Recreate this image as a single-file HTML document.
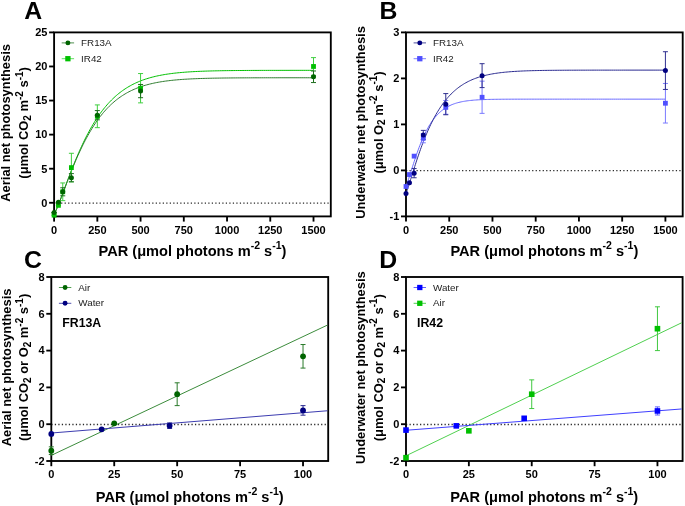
<!DOCTYPE html>
<html><head><meta charset="utf-8"><style>
html,body{margin:0;padding:0;background:#fff;width:685px;height:506px;overflow:hidden}
svg{display:block;will-change:transform}
</style></head><body>
<svg width="685" height="506" viewBox="0 0 685 506" font-family='"Liberation Sans", sans-serif'>
<rect width="685" height="506" fill="#fff"/>
<text x="24.2" y="18.5" font-size="24.8" font-weight="bold">A</text>
<text x="379.4" y="18.5" font-size="24.8" font-weight="bold">B</text>
<text x="24.0" y="268.0" font-size="24.8" font-weight="bold">C</text>
<text x="379.3" y="268.0" font-size="24.8" font-weight="bold">D</text>
<line x1="49.10" y1="202.77" x2="54.10" y2="202.77" stroke="#000" stroke-width="1.85"/>
<text x="47.40" y="206.57" font-size="11.0" font-weight="bold" text-anchor="end">0</text>
<line x1="49.10" y1="168.70" x2="54.10" y2="168.70" stroke="#000" stroke-width="1.85"/>
<text x="47.40" y="172.50" font-size="11.0" font-weight="bold" text-anchor="end">5</text>
<line x1="49.10" y1="134.62" x2="54.10" y2="134.62" stroke="#000" stroke-width="1.85"/>
<text x="47.40" y="138.42" font-size="11.0" font-weight="bold" text-anchor="end">10</text>
<line x1="49.10" y1="100.55" x2="54.10" y2="100.55" stroke="#000" stroke-width="1.85"/>
<text x="47.40" y="104.35" font-size="11.0" font-weight="bold" text-anchor="end">15</text>
<line x1="49.10" y1="66.47" x2="54.10" y2="66.47" stroke="#000" stroke-width="1.85"/>
<text x="47.40" y="70.27" font-size="11.0" font-weight="bold" text-anchor="end">20</text>
<line x1="49.10" y1="32.40" x2="54.10" y2="32.40" stroke="#000" stroke-width="1.85"/>
<text x="47.40" y="36.20" font-size="11.0" font-weight="bold" text-anchor="end">25</text>
<line x1="54.10" y1="216.40" x2="54.10" y2="221.60" stroke="#000" stroke-width="1.85"/>
<text x="54.10" y="233.70" font-size="11.0" font-weight="bold" text-anchor="middle">0</text>
<line x1="97.33" y1="216.40" x2="97.33" y2="221.60" stroke="#000" stroke-width="1.85"/>
<text x="97.33" y="233.70" font-size="11.0" font-weight="bold" text-anchor="middle">250</text>
<line x1="140.57" y1="216.40" x2="140.57" y2="221.60" stroke="#000" stroke-width="1.85"/>
<text x="140.57" y="233.70" font-size="11.0" font-weight="bold" text-anchor="middle">500</text>
<line x1="183.80" y1="216.40" x2="183.80" y2="221.60" stroke="#000" stroke-width="1.85"/>
<text x="183.80" y="233.70" font-size="11.0" font-weight="bold" text-anchor="middle">750</text>
<line x1="227.04" y1="216.40" x2="227.04" y2="221.60" stroke="#000" stroke-width="1.85"/>
<text x="227.04" y="233.70" font-size="11.0" font-weight="bold" text-anchor="middle">1000</text>
<line x1="270.27" y1="216.40" x2="270.27" y2="221.60" stroke="#000" stroke-width="1.85"/>
<text x="270.27" y="233.70" font-size="11.0" font-weight="bold" text-anchor="middle">1250</text>
<line x1="313.51" y1="216.40" x2="313.51" y2="221.60" stroke="#000" stroke-width="1.85"/>
<text x="313.51" y="233.70" font-size="11.0" font-weight="bold" text-anchor="middle">1500</text>
<line x1="54.10" y1="203.07" x2="329.88" y2="203.07" stroke="#2a2a2a" stroke-width="1.3" stroke-dasharray="1.25 2.254"/>
<rect x="54.10" y="32.40" width="276.70" height="184.00" fill="none" stroke="#000" stroke-width="1.85"/>
<polyline points="54.10,213.86 54.15,213.82 54.26,213.70 54.41,213.49 54.60,213.21 54.81,212.85 55.05,212.42 55.31,211.91 55.60,211.33 55.92,210.68 56.25,209.95 56.60,209.16 56.98,208.30 57.37,207.37 57.78,206.38 58.21,205.32 58.66,204.20 59.12,203.02 59.61,201.79 60.10,200.50 60.62,199.15 61.15,197.75 61.69,196.31 62.25,194.81 62.82,193.27 63.41,191.69 64.01,190.06 64.63,188.40 65.26,186.70 65.91,184.97 66.57,183.20 67.24,181.41 67.92,179.58 68.62,177.74 69.33,175.87 70.05,173.98 70.79,172.07 71.54,170.15 72.30,168.21 73.07,166.27 73.85,164.31 74.65,162.35 75.46,160.38 76.28,158.41 77.11,156.44 77.95,154.47 78.80,152.51 79.67,150.55 80.54,148.60 81.43,146.66 82.33,144.72 83.24,142.80 84.16,140.90 85.09,139.01 86.03,137.14 86.98,135.28 87.94,133.45 88.91,131.64 89.89,129.85 90.89,128.08 91.89,126.34 92.90,124.62 93.93,122.93 94.96,121.26 96.00,119.63 97.05,118.02 98.12,116.44 99.19,114.90 100.27,113.38 101.36,111.89 102.46,110.44 103.57,109.02 104.69,107.63 105.82,106.27 106.96,104.94 108.10,103.65 109.26,102.39 110.43,101.16 111.60,99.96 112.79,98.80 113.98,97.66 115.18,96.56 116.39,95.50 117.61,94.46 118.84,93.45 120.08,92.48 121.32,91.53 122.58,90.62 123.84,89.74 125.12,88.88 126.40,88.06 127.69,87.26 128.98,86.49 130.29,85.75 131.61,85.03 132.93,84.34 134.26,83.68 135.60,83.04 136.95,82.43 138.31,81.84 139.67,81.27 141.05,80.73 142.43,80.21 143.82,79.71 145.21,79.23 146.62,78.77 148.03,78.33 149.46,77.91 150.89,77.51 152.32,77.13 153.77,76.76 155.22,76.41 156.68,76.08 158.15,75.76 159.63,75.46 161.12,75.17 162.61,74.90 164.11,74.64 165.62,74.39 167.13,74.15 168.66,73.93 170.19,73.72 171.73,73.51 173.27,73.32 174.83,73.14 176.39,72.97 177.96,72.81 179.53,72.66 181.12,72.51 182.71,72.38 184.31,72.25 185.92,72.12 187.53,72.01 189.15,71.90 190.78,71.80 192.41,71.70 194.06,71.61 195.71,71.53 197.36,71.45 199.03,71.37 200.70,71.30 202.38,71.24 204.07,71.17 205.76,71.11 207.46,71.06 209.17,71.01 210.88,70.96 212.60,70.92 214.33,70.87 216.07,70.83 217.81,70.80 219.56,70.76 221.32,70.73 223.08,70.70 224.85,70.67 226.63,70.65 228.41,70.62 230.21,70.60 232.00,70.58 233.81,70.56 235.62,70.54 237.44,70.53 239.26,70.51 241.10,70.50 242.94,70.48 244.78,70.47 246.63,70.46 248.49,70.45 250.36,70.44 252.23,70.43 254.11,70.42 256.00,70.41 257.89,70.41 259.79,70.40 261.69,70.39 263.60,70.39 265.52,70.38 267.45,70.38 269.38,70.37 271.32,70.37 273.26,70.37 275.21,70.36 277.17,70.36 279.14,70.36 281.11,70.35 283.09,70.35 285.07,70.35 287.06,70.35 289.06,70.35 291.06,70.34 293.07,70.34 295.08,70.34 297.10,70.34 299.13,70.34 301.17,70.34 303.21,70.34 305.26,70.34 307.31,70.34 309.37,70.33 311.43,70.33 313.51,70.33" fill="none" stroke="#00C000" stroke-width="1.0"/>
<polyline points="54.10,213.72 54.15,213.67 54.26,213.55 54.41,213.34 54.60,213.06 54.81,212.70 55.05,212.26 55.31,211.75 55.60,211.17 55.92,210.52 56.25,209.79 56.60,209.00 56.98,208.14 57.37,207.21 57.78,206.23 58.21,205.18 58.66,204.06 59.12,202.90 59.61,201.67 60.10,200.39 60.62,199.06 61.15,197.68 61.69,196.25 62.25,194.78 62.82,193.26 63.41,191.70 64.01,190.10 64.63,188.47 65.26,186.80 65.91,185.10 66.57,183.37 67.24,181.62 67.92,179.84 68.62,178.03 69.33,176.21 70.05,174.37 70.79,172.51 71.54,170.64 72.30,168.76 73.07,166.87 73.85,164.98 74.65,163.08 75.46,161.18 76.28,159.27 77.11,157.37 77.95,155.48 78.80,153.59 79.67,151.71 80.54,149.83 81.43,147.97 82.33,146.12 83.24,144.28 84.16,142.46 85.09,140.66 86.03,138.88 86.98,137.11 87.94,135.37 88.91,133.65 89.89,131.95 90.89,130.28 91.89,128.63 92.90,127.01 93.93,125.42 94.96,123.85 96.00,122.31 97.05,120.81 98.12,119.33 99.19,117.88 100.27,116.46 101.36,115.08 102.46,113.72 103.57,112.40 104.69,111.10 105.82,109.84 106.96,108.61 108.10,107.42 109.26,106.25 110.43,105.12 111.60,104.02 112.79,102.95 113.98,101.91 115.18,100.90 116.39,99.93 117.61,98.98 118.84,98.06 120.08,97.18 121.32,96.32 122.58,95.49 123.84,94.69 125.12,93.92 126.40,93.17 127.69,92.45 128.98,91.76 130.29,91.10 131.61,90.46 132.93,89.84 134.26,89.25 135.60,88.68 136.95,88.13 138.31,87.61 139.67,87.11 141.05,86.63 142.43,86.17 143.82,85.73 145.21,85.31 146.62,84.90 148.03,84.52 149.46,84.15 150.89,83.80 152.32,83.47 153.77,83.15 155.22,82.84 156.68,82.56 158.15,82.28 159.63,82.02 161.12,81.77 162.61,81.54 164.11,81.31 165.62,81.10 167.13,80.90 168.66,80.71 170.19,80.53 171.73,80.36 173.27,80.20 174.83,80.04 176.39,79.90 177.96,79.76 179.53,79.64 181.12,79.51 182.71,79.40 184.31,79.29 185.92,79.19 187.53,79.10 189.15,79.01 190.78,78.92 192.41,78.84 194.06,78.77 195.71,78.70 197.36,78.63 199.03,78.57 200.70,78.51 202.38,78.46 204.07,78.41 205.76,78.36 207.46,78.32 209.17,78.28 210.88,78.24 212.60,78.20 214.33,78.17 216.07,78.14 217.81,78.11 219.56,78.08 221.32,78.05 223.08,78.03 224.85,78.01 226.63,77.99 228.41,77.97 230.21,77.95 232.00,77.94 233.81,77.92 235.62,77.91 237.44,77.89 239.26,77.88 241.10,77.87 242.94,77.86 244.78,77.85 246.63,77.84 248.49,77.83 250.36,77.83 252.23,77.82 254.11,77.81 256.00,77.81 257.89,77.80 259.79,77.80 261.69,77.79 263.60,77.79 265.52,77.78 267.45,77.78 269.38,77.78 271.32,77.77 273.26,77.77 275.21,77.77 277.17,77.77 279.14,77.76 281.11,77.76 283.09,77.76 285.07,77.76 287.06,77.76 289.06,77.76 291.06,77.76 293.07,77.75 295.08,77.75 297.10,77.75 299.13,77.75 301.17,77.75 303.21,77.75 305.26,77.75 307.31,77.75 309.37,77.75 311.43,77.75 313.51,77.75" fill="none" stroke="#2e7d2e" stroke-width="1.0"/>
<line x1="54.10" y1="215.17" x2="54.10" y2="215.17" stroke="#3fcf3f" stroke-width="1.0"/>
<line x1="51.60" y1="215.17" x2="56.60" y2="215.17" stroke="#3fcf3f" stroke-width="1.0"/>
<line x1="51.60" y1="215.17" x2="56.60" y2="215.17" stroke="#3fcf3f" stroke-width="1.0"/>
<line x1="58.42" y1="205.36" x2="58.42" y2="205.36" stroke="#3fcf3f" stroke-width="1.0"/>
<line x1="55.92" y1="205.36" x2="60.92" y2="205.36" stroke="#3fcf3f" stroke-width="1.0"/>
<line x1="55.92" y1="205.36" x2="60.92" y2="205.36" stroke="#3fcf3f" stroke-width="1.0"/>
<line x1="62.75" y1="182.94" x2="62.75" y2="200.66" stroke="#3fcf3f" stroke-width="1.0"/>
<line x1="60.25" y1="182.94" x2="65.25" y2="182.94" stroke="#3fcf3f" stroke-width="1.0"/>
<line x1="60.25" y1="200.66" x2="65.25" y2="200.66" stroke="#3fcf3f" stroke-width="1.0"/>
<line x1="71.39" y1="153.29" x2="71.39" y2="181.92" stroke="#3fcf3f" stroke-width="1.0"/>
<line x1="68.89" y1="153.29" x2="73.89" y2="153.29" stroke="#3fcf3f" stroke-width="1.0"/>
<line x1="68.89" y1="181.92" x2="73.89" y2="181.92" stroke="#3fcf3f" stroke-width="1.0"/>
<line x1="97.33" y1="104.91" x2="97.33" y2="127.67" stroke="#3fcf3f" stroke-width="1.0"/>
<line x1="94.83" y1="104.91" x2="99.83" y2="104.91" stroke="#3fcf3f" stroke-width="1.0"/>
<line x1="94.83" y1="127.67" x2="99.83" y2="127.67" stroke="#3fcf3f" stroke-width="1.0"/>
<line x1="140.57" y1="73.56" x2="140.57" y2="102.87" stroke="#3fcf3f" stroke-width="1.0"/>
<line x1="138.07" y1="73.56" x2="143.07" y2="73.56" stroke="#3fcf3f" stroke-width="1.0"/>
<line x1="138.07" y1="102.87" x2="143.07" y2="102.87" stroke="#3fcf3f" stroke-width="1.0"/>
<line x1="313.51" y1="57.61" x2="313.51" y2="75.33" stroke="#3fcf3f" stroke-width="1.0"/>
<line x1="311.01" y1="57.61" x2="316.01" y2="57.61" stroke="#3fcf3f" stroke-width="1.0"/>
<line x1="311.01" y1="75.33" x2="316.01" y2="75.33" stroke="#3fcf3f" stroke-width="1.0"/>
<line x1="54.10" y1="212.58" x2="54.10" y2="212.58" stroke="#1f6f1f" stroke-width="1.0"/>
<line x1="51.60" y1="212.58" x2="56.60" y2="212.58" stroke="#1f6f1f" stroke-width="1.0"/>
<line x1="51.60" y1="212.58" x2="56.60" y2="212.58" stroke="#1f6f1f" stroke-width="1.0"/>
<line x1="58.42" y1="202.36" x2="58.42" y2="202.36" stroke="#1f6f1f" stroke-width="1.0"/>
<line x1="55.92" y1="202.36" x2="60.92" y2="202.36" stroke="#1f6f1f" stroke-width="1.0"/>
<line x1="55.92" y1="202.36" x2="60.92" y2="202.36" stroke="#1f6f1f" stroke-width="1.0"/>
<line x1="62.75" y1="187.78" x2="62.75" y2="195.82" stroke="#1f6f1f" stroke-width="1.0"/>
<line x1="60.25" y1="187.78" x2="65.25" y2="187.78" stroke="#1f6f1f" stroke-width="1.0"/>
<line x1="60.25" y1="195.82" x2="65.25" y2="195.82" stroke="#1f6f1f" stroke-width="1.0"/>
<line x1="71.39" y1="173.60" x2="71.39" y2="181.78" stroke="#1f6f1f" stroke-width="1.0"/>
<line x1="68.89" y1="173.60" x2="73.89" y2="173.60" stroke="#1f6f1f" stroke-width="1.0"/>
<line x1="68.89" y1="181.78" x2="73.89" y2="181.78" stroke="#1f6f1f" stroke-width="1.0"/>
<line x1="97.33" y1="110.57" x2="97.33" y2="119.83" stroke="#1f6f1f" stroke-width="1.0"/>
<line x1="94.83" y1="110.57" x2="99.83" y2="110.57" stroke="#1f6f1f" stroke-width="1.0"/>
<line x1="94.83" y1="119.83" x2="99.83" y2="119.83" stroke="#1f6f1f" stroke-width="1.0"/>
<line x1="140.57" y1="84.47" x2="140.57" y2="97.69" stroke="#1f6f1f" stroke-width="1.0"/>
<line x1="138.07" y1="84.47" x2="143.07" y2="84.47" stroke="#1f6f1f" stroke-width="1.0"/>
<line x1="138.07" y1="97.69" x2="143.07" y2="97.69" stroke="#1f6f1f" stroke-width="1.0"/>
<line x1="313.51" y1="70.97" x2="313.51" y2="82.56" stroke="#1f6f1f" stroke-width="1.0"/>
<line x1="311.01" y1="70.97" x2="316.01" y2="70.97" stroke="#1f6f1f" stroke-width="1.0"/>
<line x1="311.01" y1="82.56" x2="316.01" y2="82.56" stroke="#1f6f1f" stroke-width="1.0"/>
<rect x="51.70" y="212.77" width="4.8" height="4.8" fill="#00C000"/>
<rect x="56.02" y="202.96" width="4.8" height="4.8" fill="#00C000"/>
<rect x="60.35" y="189.40" width="4.8" height="4.8" fill="#00C000"/>
<rect x="68.99" y="165.21" width="4.8" height="4.8" fill="#00C000"/>
<rect x="94.93" y="113.89" width="4.8" height="4.8" fill="#00C000"/>
<rect x="138.17" y="85.81" width="4.8" height="4.8" fill="#00C000"/>
<rect x="311.11" y="64.07" width="4.8" height="4.8" fill="#00C000"/>
<circle cx="54.10" cy="212.58" r="2.5" fill="#006400"/>
<circle cx="58.42" cy="202.36" r="2.5" fill="#006400"/>
<circle cx="62.75" cy="191.80" r="2.5" fill="#006400"/>
<circle cx="71.39" cy="177.69" r="2.5" fill="#006400"/>
<circle cx="97.33" cy="115.20" r="2.5" fill="#006400"/>
<circle cx="140.57" cy="91.08" r="2.5" fill="#006400"/>
<circle cx="313.51" cy="76.76" r="2.5" fill="#006400"/>
<line x1="61.70" y1="42.90" x2="74.10" y2="42.90" stroke="#4f8f4f" stroke-width="1"/>
<circle cx="67.90" cy="42.90" r="2.45" fill="#006400"/>
<text x="81.10" y="46.00" font-size="9.8" fill="#222">FR13A</text>
<line x1="61.70" y1="58.70" x2="74.10" y2="58.70" stroke="#5fdf5f" stroke-width="1"/>
<rect x="65.25" y="56.05" width="5.3" height="5.3" fill="#00C000"/>
<text x="81.10" y="61.80" font-size="9.8" fill="#222">IR42</text>
<line x1="401.00" y1="216.40" x2="406.00" y2="216.40" stroke="#000" stroke-width="1.85"/>
<text x="399.30" y="220.20" font-size="11.0" font-weight="bold" text-anchor="end">-1</text>
<line x1="401.00" y1="170.40" x2="406.00" y2="170.40" stroke="#000" stroke-width="1.85"/>
<text x="399.30" y="174.20" font-size="11.0" font-weight="bold" text-anchor="end">0</text>
<line x1="401.00" y1="124.40" x2="406.00" y2="124.40" stroke="#000" stroke-width="1.85"/>
<text x="399.30" y="128.20" font-size="11.0" font-weight="bold" text-anchor="end">1</text>
<line x1="401.00" y1="78.40" x2="406.00" y2="78.40" stroke="#000" stroke-width="1.85"/>
<text x="399.30" y="82.20" font-size="11.0" font-weight="bold" text-anchor="end">2</text>
<line x1="401.00" y1="32.40" x2="406.00" y2="32.40" stroke="#000" stroke-width="1.85"/>
<text x="399.30" y="36.20" font-size="11.0" font-weight="bold" text-anchor="end">3</text>
<line x1="406.00" y1="216.40" x2="406.00" y2="221.60" stroke="#000" stroke-width="1.85"/>
<text x="406.00" y="233.70" font-size="11.0" font-weight="bold" text-anchor="middle">0</text>
<line x1="449.23" y1="216.40" x2="449.23" y2="221.60" stroke="#000" stroke-width="1.85"/>
<text x="449.23" y="233.70" font-size="11.0" font-weight="bold" text-anchor="middle">250</text>
<line x1="492.47" y1="216.40" x2="492.47" y2="221.60" stroke="#000" stroke-width="1.85"/>
<text x="492.47" y="233.70" font-size="11.0" font-weight="bold" text-anchor="middle">500</text>
<line x1="535.70" y1="216.40" x2="535.70" y2="221.60" stroke="#000" stroke-width="1.85"/>
<text x="535.70" y="233.70" font-size="11.0" font-weight="bold" text-anchor="middle">750</text>
<line x1="578.94" y1="216.40" x2="578.94" y2="221.60" stroke="#000" stroke-width="1.85"/>
<text x="578.94" y="233.70" font-size="11.0" font-weight="bold" text-anchor="middle">1000</text>
<line x1="622.17" y1="216.40" x2="622.17" y2="221.60" stroke="#000" stroke-width="1.85"/>
<text x="622.17" y="233.70" font-size="11.0" font-weight="bold" text-anchor="middle">1250</text>
<line x1="665.41" y1="216.40" x2="665.41" y2="221.60" stroke="#000" stroke-width="1.85"/>
<text x="665.41" y="233.70" font-size="11.0" font-weight="bold" text-anchor="middle">1500</text>
<line x1="406.00" y1="170.70" x2="681.78" y2="170.70" stroke="#2a2a2a" stroke-width="1.3" stroke-dasharray="1.25 2.254"/>
<rect x="406.00" y="32.40" width="276.70" height="184.00" fill="none" stroke="#000" stroke-width="1.85"/>
<polyline points="406.00,185.44 406.05,185.39 406.16,185.22 406.31,184.95 406.50,184.58 406.71,184.11 406.95,183.53 407.21,182.86 407.50,182.09 407.82,181.23 408.15,180.28 408.50,179.24 408.88,178.12 409.27,176.93 409.68,175.66 410.11,174.32 410.56,172.91 411.02,171.45 411.51,169.93 412.00,168.36 412.52,166.74 413.05,165.09 413.59,163.39 414.15,161.67 414.72,159.92 415.31,158.15 415.91,156.36 416.53,154.56 417.16,152.75 417.81,150.94 418.47,149.14 419.14,147.34 419.82,145.54 420.52,143.77 421.23,142.01 421.95,140.27 422.69,138.55 423.44,136.86 424.20,135.21 424.97,133.58 425.75,131.99 426.55,130.43 427.36,128.92 428.18,127.44 429.01,126.00 429.85,124.61 430.70,123.26 431.57,121.96 432.44,120.70 433.33,119.49 434.23,118.32 435.14,117.20 436.06,116.12 436.99,115.09 437.93,114.11 438.88,113.17 439.84,112.27 440.81,111.41 441.79,110.60 442.79,109.83 443.79,109.10 444.80,108.41 445.83,107.76 446.86,107.14 447.90,106.56 448.95,106.01 450.02,105.50 451.09,105.01 452.17,104.56 453.26,104.14 454.36,103.74 455.47,103.37 456.59,103.03 457.72,102.71 458.86,102.41 460.00,102.14 461.16,101.88 462.33,101.64 463.50,101.42 464.69,101.22 465.88,101.03 467.08,100.86 468.29,100.71 469.51,100.56 470.74,100.43 471.98,100.30 473.22,100.19 474.48,100.09 475.74,100.00 477.02,99.91 478.30,99.84 479.59,99.77 480.88,99.70 482.19,99.65 483.51,99.59 484.83,99.55 486.16,99.50 487.50,99.46 488.85,99.43 490.21,99.40 491.57,99.37 492.95,99.35 494.33,99.32 495.72,99.30 497.11,99.28 498.52,99.27 499.93,99.25 501.36,99.24 502.79,99.23 504.22,99.22 505.67,99.21 507.12,99.20 508.58,99.20 510.05,99.19 511.53,99.18 513.02,99.18 514.51,99.18 516.01,99.17 517.52,99.17 519.03,99.17 520.56,99.16 522.09,99.16 523.63,99.16 525.17,99.16 526.73,99.16 528.29,99.15 529.86,99.15 531.43,99.15 533.02,99.15 534.61,99.15 536.21,99.15 537.82,99.15 539.43,99.15 541.05,99.15 542.68,99.15 544.31,99.15 545.96,99.15 547.61,99.15 549.26,99.15 550.93,99.15 552.60,99.15 554.28,99.15 555.97,99.15 557.66,99.15 559.36,99.15 561.07,99.15 562.78,99.15 564.50,99.15 566.23,99.15 567.97,99.15 569.71,99.15 571.46,99.15 573.22,99.15 574.98,99.15 576.75,99.15 578.53,99.15 580.31,99.15 582.11,99.15 583.90,99.15 585.71,99.15 587.52,99.15 589.34,99.15 591.16,99.15 593.00,99.15 594.84,99.15 596.68,99.15 598.53,99.15 600.39,99.15 602.26,99.15 604.13,99.15 606.01,99.15 607.90,99.15 609.79,99.15 611.69,99.15 613.59,99.15 615.50,99.15 617.42,99.15 619.35,99.15 621.28,99.15 623.22,99.15 625.16,99.15 627.11,99.15 629.07,99.15 631.04,99.15 633.01,99.15 634.99,99.15 636.97,99.15 638.96,99.15 640.96,99.15 642.96,99.15 644.97,99.15 646.98,99.15 649.00,99.15 651.03,99.15 653.07,99.15 655.11,99.15 657.16,99.15 659.21,99.15 661.27,99.15 663.33,99.15 665.41,99.15" fill="none" stroke="#6a6aff" stroke-width="1.0"/>
<polyline points="406.00,193.03 406.05,192.95 406.16,192.74 406.31,192.41 406.50,191.97 406.71,191.42 406.95,190.78 407.21,190.04 407.50,189.21 407.82,188.29 408.15,187.29 408.50,186.21 408.88,185.06 409.27,183.83 409.68,182.53 410.11,181.17 410.56,179.74 411.02,178.25 411.51,176.71 412.00,175.12 412.52,173.48 413.05,171.80 413.59,170.07 414.15,168.31 414.72,166.51 415.31,164.68 415.91,162.82 416.53,160.95 417.16,159.05 417.81,157.13 418.47,155.20 419.14,153.25 419.82,151.30 420.52,149.34 421.23,147.38 421.95,145.42 422.69,143.47 423.44,141.52 424.20,139.58 424.97,137.64 425.75,135.72 426.55,133.82 427.36,131.93 428.18,130.06 429.01,128.21 429.85,126.38 430.70,124.58 431.57,122.80 432.44,121.05 433.33,119.33 434.23,117.64 435.14,115.98 436.06,114.35 436.99,112.75 437.93,111.18 438.88,109.65 439.84,108.15 440.81,106.69 441.79,105.26 442.79,103.87 443.79,102.52 444.80,101.20 445.83,99.91 446.86,98.67 447.90,97.46 448.95,96.28 450.02,95.14 451.09,94.04 452.17,92.97 453.26,91.94 454.36,90.94 455.47,89.98 456.59,89.05 457.72,88.15 458.86,87.29 460.00,86.45 461.16,85.65 462.33,84.88 463.50,84.14 464.69,83.43 465.88,82.75 467.08,82.10 468.29,81.47 469.51,80.87 470.74,80.30 471.98,79.75 473.22,79.23 474.48,78.73 475.74,78.25 477.02,77.79 478.30,77.36 479.59,76.95 480.88,76.55 482.19,76.18 483.51,75.83 484.83,75.49 486.16,75.17 487.50,74.86 488.85,74.58 490.21,74.30 491.57,74.05 492.95,73.80 494.33,73.57 495.72,73.35 497.11,73.15 498.52,72.95 499.93,72.77 501.36,72.59 502.79,72.43 504.22,72.28 505.67,72.13 507.12,72.00 508.58,71.87 510.05,71.75 511.53,71.64 513.02,71.53 514.51,71.44 516.01,71.34 517.52,71.26 519.03,71.18 520.56,71.10 522.09,71.03 523.63,70.96 525.17,70.90 526.73,70.84 528.29,70.79 529.86,70.74 531.43,70.69 533.02,70.65 534.61,70.61 536.21,70.57 537.82,70.54 539.43,70.50 541.05,70.47 542.68,70.45 544.31,70.42 545.96,70.40 547.61,70.37 549.26,70.35 550.93,70.33 552.60,70.32 554.28,70.30 555.97,70.29 557.66,70.27 559.36,70.26 561.07,70.25 562.78,70.24 564.50,70.23 566.23,70.22 567.97,70.21 569.71,70.20 571.46,70.19 573.22,70.19 574.98,70.18 576.75,70.18 578.53,70.17 580.31,70.17 582.11,70.16 583.90,70.16 585.71,70.16 587.52,70.15 589.34,70.15 591.16,70.15 593.00,70.14 594.84,70.14 596.68,70.14 598.53,70.14 600.39,70.14 602.26,70.13 604.13,70.13 606.01,70.13 607.90,70.13 609.79,70.13 611.69,70.13 613.59,70.13 615.50,70.13 617.42,70.13 619.35,70.13 621.28,70.13 623.22,70.12 625.16,70.12 627.11,70.12 629.07,70.12 631.04,70.12 633.01,70.12 634.99,70.12 636.97,70.12 638.96,70.12 640.96,70.12 642.96,70.12 644.97,70.12 646.98,70.12 649.00,70.12 651.03,70.12 653.07,70.12 655.11,70.12 657.16,70.12 659.21,70.12 661.27,70.12 663.33,70.12 665.41,70.12" fill="none" stroke="#2a2a90" stroke-width="1.0"/>
<line x1="423.29" y1="133.60" x2="423.29" y2="142.80" stroke="#7b7bff" stroke-width="1.0"/>
<line x1="420.79" y1="133.60" x2="425.79" y2="133.60" stroke="#7b7bff" stroke-width="1.0"/>
<line x1="420.79" y1="142.80" x2="425.79" y2="142.80" stroke="#7b7bff" stroke-width="1.0"/>
<line x1="445.78" y1="100.48" x2="445.78" y2="114.28" stroke="#7b7bff" stroke-width="1.0"/>
<line x1="443.28" y1="100.48" x2="448.28" y2="100.48" stroke="#7b7bff" stroke-width="1.0"/>
<line x1="443.28" y1="114.28" x2="448.28" y2="114.28" stroke="#7b7bff" stroke-width="1.0"/>
<line x1="482.09" y1="81.16" x2="482.09" y2="113.36" stroke="#7b7bff" stroke-width="1.0"/>
<line x1="479.59" y1="81.16" x2="484.59" y2="81.16" stroke="#7b7bff" stroke-width="1.0"/>
<line x1="479.59" y1="113.36" x2="484.59" y2="113.36" stroke="#7b7bff" stroke-width="1.0"/>
<line x1="665.41" y1="83.46" x2="665.41" y2="123.02" stroke="#7b7bff" stroke-width="1.0"/>
<line x1="662.91" y1="83.46" x2="667.91" y2="83.46" stroke="#7b7bff" stroke-width="1.0"/>
<line x1="662.91" y1="123.02" x2="667.91" y2="123.02" stroke="#7b7bff" stroke-width="1.0"/>
<line x1="414.13" y1="168.56" x2="414.13" y2="177.76" stroke="#303090" stroke-width="1.0"/>
<line x1="411.63" y1="168.56" x2="416.63" y2="168.56" stroke="#303090" stroke-width="1.0"/>
<line x1="411.63" y1="177.76" x2="416.63" y2="177.76" stroke="#303090" stroke-width="1.0"/>
<line x1="423.29" y1="130.38" x2="423.29" y2="139.58" stroke="#303090" stroke-width="1.0"/>
<line x1="420.79" y1="130.38" x2="425.79" y2="130.38" stroke="#303090" stroke-width="1.0"/>
<line x1="420.79" y1="139.58" x2="425.79" y2="139.58" stroke="#303090" stroke-width="1.0"/>
<line x1="445.78" y1="93.58" x2="445.78" y2="114.74" stroke="#303090" stroke-width="1.0"/>
<line x1="443.28" y1="93.58" x2="448.28" y2="93.58" stroke="#303090" stroke-width="1.0"/>
<line x1="443.28" y1="114.74" x2="448.28" y2="114.74" stroke="#303090" stroke-width="1.0"/>
<line x1="482.09" y1="63.68" x2="482.09" y2="87.60" stroke="#303090" stroke-width="1.0"/>
<line x1="479.59" y1="63.68" x2="484.59" y2="63.68" stroke="#303090" stroke-width="1.0"/>
<line x1="479.59" y1="87.60" x2="484.59" y2="87.60" stroke="#303090" stroke-width="1.0"/>
<line x1="665.41" y1="51.72" x2="665.41" y2="89.44" stroke="#303090" stroke-width="1.0"/>
<line x1="662.91" y1="51.72" x2="667.91" y2="51.72" stroke="#303090" stroke-width="1.0"/>
<line x1="662.91" y1="89.44" x2="667.91" y2="89.44" stroke="#303090" stroke-width="1.0"/>
<rect x="403.60" y="184.10" width="4.8" height="4.8" fill="#5050FF"/>
<rect x="407.06" y="172.14" width="4.8" height="4.8" fill="#5050FF"/>
<rect x="411.73" y="153.74" width="4.8" height="4.8" fill="#5050FF"/>
<rect x="420.89" y="135.80" width="4.8" height="4.8" fill="#5050FF"/>
<rect x="443.38" y="104.98" width="4.8" height="4.8" fill="#5050FF"/>
<rect x="479.69" y="94.86" width="4.8" height="4.8" fill="#5050FF"/>
<rect x="663.01" y="100.84" width="4.8" height="4.8" fill="#5050FF"/>
<circle cx="406.00" cy="193.40" r="2.5" fill="#000080"/>
<circle cx="409.46" cy="182.82" r="2.5" fill="#000080"/>
<circle cx="414.13" cy="173.16" r="2.5" fill="#000080"/>
<circle cx="423.29" cy="134.98" r="2.5" fill="#000080"/>
<circle cx="445.78" cy="104.16" r="2.5" fill="#000080"/>
<circle cx="482.09" cy="75.64" r="2.5" fill="#000080"/>
<circle cx="665.41" cy="70.58" r="2.5" fill="#000080"/>
<line x1="413.60" y1="42.90" x2="426.00" y2="42.90" stroke="#5050a0" stroke-width="1"/>
<circle cx="419.80" cy="42.90" r="2.45" fill="#000080"/>
<text x="433.00" y="46.00" font-size="9.8" fill="#222">FR13A</text>
<line x1="413.60" y1="58.70" x2="426.00" y2="58.70" stroke="#8080ff" stroke-width="1"/>
<rect x="417.15" y="56.05" width="5.3" height="5.3" fill="#5050FF"/>
<text x="433.00" y="61.80" font-size="9.8" fill="#222">IR42</text>
<line x1="46.30" y1="461.00" x2="51.30" y2="461.00" stroke="#000" stroke-width="1.85"/>
<text x="44.60" y="464.80" font-size="11.0" font-weight="bold" text-anchor="end">-2</text>
<line x1="46.30" y1="424.20" x2="51.30" y2="424.20" stroke="#000" stroke-width="1.85"/>
<text x="44.60" y="428.00" font-size="11.0" font-weight="bold" text-anchor="end">0</text>
<line x1="46.30" y1="387.40" x2="51.30" y2="387.40" stroke="#000" stroke-width="1.85"/>
<text x="44.60" y="391.20" font-size="11.0" font-weight="bold" text-anchor="end">2</text>
<line x1="46.30" y1="350.60" x2="51.30" y2="350.60" stroke="#000" stroke-width="1.85"/>
<text x="44.60" y="354.40" font-size="11.0" font-weight="bold" text-anchor="end">4</text>
<line x1="46.30" y1="313.80" x2="51.30" y2="313.80" stroke="#000" stroke-width="1.85"/>
<text x="44.60" y="317.60" font-size="11.0" font-weight="bold" text-anchor="end">6</text>
<line x1="46.30" y1="277.00" x2="51.30" y2="277.00" stroke="#000" stroke-width="1.85"/>
<text x="44.60" y="280.80" font-size="11.0" font-weight="bold" text-anchor="end">8</text>
<line x1="51.30" y1="461.00" x2="51.30" y2="466.20" stroke="#000" stroke-width="1.85"/>
<text x="51.30" y="478.30" font-size="11.0" font-weight="bold" text-anchor="middle">0</text>
<line x1="114.23" y1="461.00" x2="114.23" y2="466.20" stroke="#000" stroke-width="1.85"/>
<text x="114.23" y="478.30" font-size="11.0" font-weight="bold" text-anchor="middle">25</text>
<line x1="177.16" y1="461.00" x2="177.16" y2="466.20" stroke="#000" stroke-width="1.85"/>
<text x="177.16" y="478.30" font-size="11.0" font-weight="bold" text-anchor="middle">50</text>
<line x1="240.10" y1="461.00" x2="240.10" y2="466.20" stroke="#000" stroke-width="1.85"/>
<text x="240.10" y="478.30" font-size="11.0" font-weight="bold" text-anchor="middle">75</text>
<line x1="303.03" y1="461.00" x2="303.03" y2="466.20" stroke="#000" stroke-width="1.85"/>
<text x="303.03" y="478.30" font-size="11.0" font-weight="bold" text-anchor="middle">100</text>
<line x1="51.30" y1="424.50" x2="327.27" y2="424.50" stroke="#2a2a2a" stroke-width="1.3" stroke-dasharray="1.25 2.254"/>
<rect x="51.30" y="277.00" width="276.90" height="184.00" fill="none" stroke="#000" stroke-width="1.85"/>
<line x1="51.30" y1="455.37" x2="327.30" y2="325.15" stroke="#3c8c3c" stroke-width="1.0"/>
<line x1="51.30" y1="433.03" x2="327.30" y2="410.77" stroke="#3c3cb0" stroke-width="1.0"/>
<line x1="51.30" y1="446.83" x2="51.30" y2="454.56" stroke="#2a7a2a" stroke-width="1.0"/>
<line x1="48.80" y1="446.83" x2="53.80" y2="446.83" stroke="#2a7a2a" stroke-width="1.0"/>
<line x1="48.80" y1="454.56" x2="53.80" y2="454.56" stroke="#2a7a2a" stroke-width="1.0"/>
<line x1="177.16" y1="382.80" x2="177.16" y2="405.62" stroke="#2a7a2a" stroke-width="1.0"/>
<line x1="174.66" y1="382.80" x2="179.66" y2="382.80" stroke="#2a7a2a" stroke-width="1.0"/>
<line x1="174.66" y1="405.62" x2="179.66" y2="405.62" stroke="#2a7a2a" stroke-width="1.0"/>
<line x1="303.03" y1="344.53" x2="303.03" y2="368.08" stroke="#2a7a2a" stroke-width="1.0"/>
<line x1="300.53" y1="344.53" x2="305.53" y2="344.53" stroke="#2a7a2a" stroke-width="1.0"/>
<line x1="300.53" y1="368.08" x2="305.53" y2="368.08" stroke="#2a7a2a" stroke-width="1.0"/>
<line x1="169.61" y1="422.91" x2="169.61" y2="428.43" stroke="#2a2a90" stroke-width="1.0"/>
<line x1="167.11" y1="422.91" x2="172.11" y2="422.91" stroke="#2a2a90" stroke-width="1.0"/>
<line x1="167.11" y1="428.43" x2="172.11" y2="428.43" stroke="#2a2a90" stroke-width="1.0"/>
<line x1="303.03" y1="405.62" x2="303.03" y2="415.18" stroke="#2a2a90" stroke-width="1.0"/>
<line x1="300.53" y1="405.62" x2="305.53" y2="405.62" stroke="#2a2a90" stroke-width="1.0"/>
<line x1="300.53" y1="415.18" x2="305.53" y2="415.18" stroke="#2a2a90" stroke-width="1.0"/>
<circle cx="51.30" cy="450.70" r="2.9" fill="#006400"/>
<circle cx="114.23" cy="423.28" r="2.9" fill="#006400"/>
<circle cx="177.16" cy="394.21" r="2.9" fill="#006400"/>
<circle cx="303.03" cy="356.30" r="2.9" fill="#006400"/>
<circle cx="51.30" cy="433.95" r="2.9" fill="#000080"/>
<circle cx="101.65" cy="429.35" r="2.9" fill="#000080"/>
<circle cx="169.61" cy="425.67" r="2.9" fill="#000080"/>
<circle cx="303.03" cy="410.40" r="2.9" fill="#000080"/>
<line x1="58.90" y1="287.50" x2="71.30" y2="287.50" stroke="#4f9f4f" stroke-width="1"/>
<circle cx="65.10" cy="287.50" r="2.45" fill="#006400"/>
<text x="78.30" y="290.60" font-size="9.8" fill="#222">Air</text>
<line x1="58.90" y1="303.30" x2="71.30" y2="303.30" stroke="#5050b0" stroke-width="1"/>
<circle cx="65.10" cy="303.30" r="2.45" fill="#000080"/>
<text x="78.30" y="306.40" font-size="9.8" fill="#222">Water</text>
<text x="62.30" y="327.0" font-size="12.3" font-weight="bold">FR13A</text>
<line x1="401.00" y1="461.00" x2="406.00" y2="461.00" stroke="#000" stroke-width="1.85"/>
<text x="399.30" y="464.80" font-size="11.0" font-weight="bold" text-anchor="end">-2</text>
<line x1="401.00" y1="424.20" x2="406.00" y2="424.20" stroke="#000" stroke-width="1.85"/>
<text x="399.30" y="428.00" font-size="11.0" font-weight="bold" text-anchor="end">0</text>
<line x1="401.00" y1="387.40" x2="406.00" y2="387.40" stroke="#000" stroke-width="1.85"/>
<text x="399.30" y="391.20" font-size="11.0" font-weight="bold" text-anchor="end">2</text>
<line x1="401.00" y1="350.60" x2="406.00" y2="350.60" stroke="#000" stroke-width="1.85"/>
<text x="399.30" y="354.40" font-size="11.0" font-weight="bold" text-anchor="end">4</text>
<line x1="401.00" y1="313.80" x2="406.00" y2="313.80" stroke="#000" stroke-width="1.85"/>
<text x="399.30" y="317.60" font-size="11.0" font-weight="bold" text-anchor="end">6</text>
<line x1="401.00" y1="277.00" x2="406.00" y2="277.00" stroke="#000" stroke-width="1.85"/>
<text x="399.30" y="280.80" font-size="11.0" font-weight="bold" text-anchor="end">8</text>
<line x1="406.00" y1="461.00" x2="406.00" y2="466.20" stroke="#000" stroke-width="1.85"/>
<text x="406.00" y="478.30" font-size="11.0" font-weight="bold" text-anchor="middle">0</text>
<line x1="468.86" y1="461.00" x2="468.86" y2="466.20" stroke="#000" stroke-width="1.85"/>
<text x="468.86" y="478.30" font-size="11.0" font-weight="bold" text-anchor="middle">25</text>
<line x1="531.73" y1="461.00" x2="531.73" y2="466.20" stroke="#000" stroke-width="1.85"/>
<text x="531.73" y="478.30" font-size="11.0" font-weight="bold" text-anchor="middle">50</text>
<line x1="594.59" y1="461.00" x2="594.59" y2="466.20" stroke="#000" stroke-width="1.85"/>
<text x="594.59" y="478.30" font-size="11.0" font-weight="bold" text-anchor="middle">75</text>
<line x1="657.45" y1="461.00" x2="657.45" y2="466.20" stroke="#000" stroke-width="1.85"/>
<text x="657.45" y="478.30" font-size="11.0" font-weight="bold" text-anchor="middle">100</text>
<line x1="406.00" y1="424.50" x2="681.68" y2="424.50" stroke="#2a2a2a" stroke-width="1.3" stroke-dasharray="1.25 2.254"/>
<rect x="406.00" y="277.00" width="276.60" height="184.00" fill="none" stroke="#000" stroke-width="1.85"/>
<line x1="406.00" y1="455.79" x2="681.70" y2="322.74" stroke="#50d050" stroke-width="1.0"/>
<line x1="406.00" y1="430.27" x2="681.70" y2="408.96" stroke="#4040ff" stroke-width="1.0"/>
<line x1="531.73" y1="379.86" x2="531.73" y2="408.56" stroke="#40c840" stroke-width="1.0"/>
<line x1="529.23" y1="379.86" x2="534.23" y2="379.86" stroke="#40c840" stroke-width="1.0"/>
<line x1="529.23" y1="408.56" x2="534.23" y2="408.56" stroke="#40c840" stroke-width="1.0"/>
<line x1="657.45" y1="306.81" x2="657.45" y2="350.60" stroke="#40c840" stroke-width="1.0"/>
<line x1="654.95" y1="306.81" x2="659.95" y2="306.81" stroke="#40c840" stroke-width="1.0"/>
<line x1="654.95" y1="350.60" x2="659.95" y2="350.60" stroke="#40c840" stroke-width="1.0"/>
<line x1="657.45" y1="406.90" x2="657.45" y2="415.00" stroke="#6060ff" stroke-width="1.0"/>
<line x1="654.95" y1="406.90" x2="659.95" y2="406.90" stroke="#6060ff" stroke-width="1.0"/>
<line x1="654.95" y1="415.00" x2="659.95" y2="415.00" stroke="#6060ff" stroke-width="1.0"/>
<rect x="403.20" y="454.89" width="5.6" height="5.6" fill="#00C000"/>
<rect x="466.06" y="428.02" width="5.6" height="5.6" fill="#00C000"/>
<rect x="528.93" y="391.41" width="5.6" height="5.6" fill="#00C000"/>
<rect x="654.65" y="325.90" width="5.6" height="5.6" fill="#00C000"/>
<rect x="403.20" y="427.29" width="5.6" height="5.6" fill="#0000FF"/>
<rect x="453.49" y="423.06" width="5.6" height="5.6" fill="#0000FF"/>
<rect x="521.38" y="415.51" width="5.6" height="5.6" fill="#0000FF"/>
<rect x="654.65" y="408.15" width="5.6" height="5.6" fill="#0000FF"/>
<line x1="413.60" y1="287.50" x2="426.00" y2="287.50" stroke="#6060ff" stroke-width="1"/>
<rect x="417.15" y="284.85" width="5.3" height="5.3" fill="#0000FF"/>
<text x="433.00" y="290.60" font-size="9.8" fill="#222">Water</text>
<line x1="413.60" y1="303.30" x2="426.00" y2="303.30" stroke="#50d050" stroke-width="1"/>
<rect x="417.15" y="300.65" width="5.3" height="5.3" fill="#00C000"/>
<text x="433.00" y="306.40" font-size="9.8" fill="#222">Air</text>
<text x="417.00" y="327.0" font-size="12.3" font-weight="bold">IR42</text>
<text transform="translate(10.30,122.90) rotate(-90)" font-size="12.9" font-weight="bold" text-anchor="middle">Aerial net photosynthesis</text>
<text transform="translate(28.00,122.90) rotate(-90)" font-size="12.9" font-weight="bold" text-anchor="middle"><tspan>(μmol CO</tspan><tspan dy="2.60" font-size="10.0">2</tspan><tspan dy="-2.60"> m</tspan><tspan dy="-5.20" font-size="10.0">-2</tspan><tspan dy="5.20"> s</tspan><tspan dy="-5.20" font-size="10.0">-1</tspan><tspan dy="5.20">)</tspan></text>
<text transform="translate(364.70,122.50) rotate(-90)" font-size="12.9" font-weight="bold" text-anchor="middle">Underwater net photosynthesis</text>
<text transform="translate(382.50,122.50) rotate(-90)" font-size="12.9" font-weight="bold" text-anchor="middle"><tspan>(μmol O</tspan><tspan dy="2.60" font-size="10.0">2</tspan><tspan dy="-2.60"> m</tspan><tspan dy="-5.20" font-size="10.0">-2</tspan><tspan dy="5.20"> s</tspan><tspan dy="-5.20" font-size="10.0">-1</tspan><tspan dy="5.20">)</tspan></text>
<text transform="translate(10.70,367.40) rotate(-90)" font-size="12.9" font-weight="bold" text-anchor="middle">Aerial net photosynthesis</text>
<text transform="translate(28.20,367.40) rotate(-90)" font-size="12.9" font-weight="bold" text-anchor="middle"><tspan>(μmol CO</tspan><tspan dy="2.60" font-size="10.0">2</tspan><tspan dy="-2.60"> or O</tspan><tspan dy="2.60" font-size="10.0">2</tspan><tspan dy="-2.60"> m</tspan><tspan dy="-5.20" font-size="10.0">-2</tspan><tspan dy="5.20"> s</tspan><tspan dy="-5.20" font-size="10.0">-1</tspan><tspan dy="5.20">)</tspan></text>
<text transform="translate(364.70,367.70) rotate(-90)" font-size="12.9" font-weight="bold" text-anchor="middle">Underwater net photosynthesis</text>
<text transform="translate(382.50,367.70) rotate(-90)" font-size="12.9" font-weight="bold" text-anchor="middle"><tspan>(μmol CO</tspan><tspan dy="2.60" font-size="10.0">2</tspan><tspan dy="-2.60"> or O</tspan><tspan dy="2.60" font-size="10.0">2</tspan><tspan dy="-2.60"> m</tspan><tspan dy="-5.20" font-size="10.0">-2</tspan><tspan dy="5.20"> s</tspan><tspan dy="-5.20" font-size="10.0">-1</tspan><tspan dy="5.20">)</tspan></text>
<text x="192.45" y="256.20" font-size="14.6" font-weight="bold" text-anchor="middle"><tspan>PAR (μmol photons m</tspan><tspan dy="-6.80" font-size="10.5">-2</tspan><tspan dy="6.80"> s</tspan><tspan dy="-6.80" font-size="10.5">-1</tspan><tspan dy="6.80">)</tspan></text>
<text x="544.35" y="256.20" font-size="14.6" font-weight="bold" text-anchor="middle"><tspan>PAR (μmol photons m</tspan><tspan dy="-6.80" font-size="10.5">-2</tspan><tspan dy="6.80"> s</tspan><tspan dy="-6.80" font-size="10.5">-1</tspan><tspan dy="6.80">)</tspan></text>
<text x="189.75" y="501.80" font-size="14.6" font-weight="bold" text-anchor="middle"><tspan>PAR (μmol photons m</tspan><tspan dy="-6.80" font-size="10.5">-2</tspan><tspan dy="6.80"> s</tspan><tspan dy="-6.80" font-size="10.5">-1</tspan><tspan dy="6.80">)</tspan></text>
<text x="544.30" y="501.80" font-size="14.6" font-weight="bold" text-anchor="middle"><tspan>PAR (μmol photons m</tspan><tspan dy="-6.80" font-size="10.5">-2</tspan><tspan dy="6.80"> s</tspan><tspan dy="-6.80" font-size="10.5">-1</tspan><tspan dy="6.80">)</tspan></text>
</svg>
</body></html>
